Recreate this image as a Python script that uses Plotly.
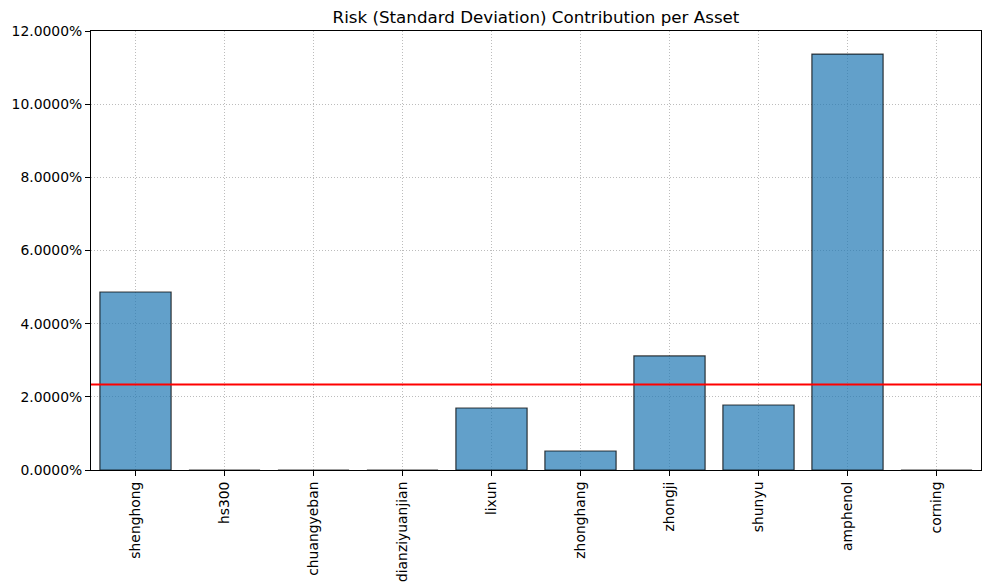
import plotly.graph_objects as go

assets = ["shenghong", "hs300", "chuangyeban", "dianziyuanjian", "lixun",
          "zhonghang", "zhongji", "shunyu", "amphenol", "corning"]
risk_contrib = [0.04866, 0.0, 0.0, 0.0, 0.01695, 0.0052, 0.03117, 0.01777, 0.1137, 0.0]
y_ticks = [0.0, 0.02, 0.04, 0.06, 0.08, 0.10, 0.12]

mean_contrib = sum(risk_contrib) / len(risk_contrib)

fig = go.Figure()
fig.add_trace(go.Bar(
    x=list(range(len(assets))),
    y=risk_contrib,
    width=0.8,
    marker=dict(color="rgba(31,119,180,0.7)",
                line=dict(color="rgba(0,0,0,0.75)", width=1.2)),
    showlegend=False,
    hoverinfo="skip",
))

fig.add_shape(type="line", xref="paper", x0=0, x1=1, yref="y",
              y0=mean_contrib, y1=mean_contrib,
              line=dict(color="red", width=2))

axis_common = dict(showline=True, linecolor="black", linewidth=1, mirror=True,
                   showgrid=True, gridcolor="#bcbcbc", griddash="1px,2px", gridwidth=1,
                   ticks="outside", ticklen=5, tickcolor="black", tickwidth=1,
                   zeroline=False, automargin=False,
                   tickfont=dict(family="DejaVu Sans", size=13.9, color="black"))

fig.update_layout(
    width=998, height=587,
    margin=dict(l=91, r=17, t=31, b=117, autoexpand=False),
    paper_bgcolor="white", plot_bgcolor="white",
    title=dict(text="Risk (Standard Deviation) Contribution per Asset",
               x=(91 + 981) / 2 / 998, xanchor="center", y=1 - 17 / 587, yanchor="middle",
               font=dict(family="DejaVu Sans", size=16.7, color="black")),
    xaxis=dict(range=[-0.5, len(assets) - 0.5],
               tickmode="array", tickvals=list(range(len(assets))), ticktext=assets,
               tickangle=-90, **axis_common),
    yaxis=dict(range=[0, 0.12], tickmode="array", tickvals=y_ticks,
               tickformat=".4%", **axis_common),
)

fig.write_html(
    "out.html",
    config={"responsive": False, "displayModeBar": False},
    post_script="document.body.style.margin='0';document.body.style.padding='0';"
                "document.body.style.overflow='hidden';"
                "document.documentElement.style.overflow='hidden';",
)
